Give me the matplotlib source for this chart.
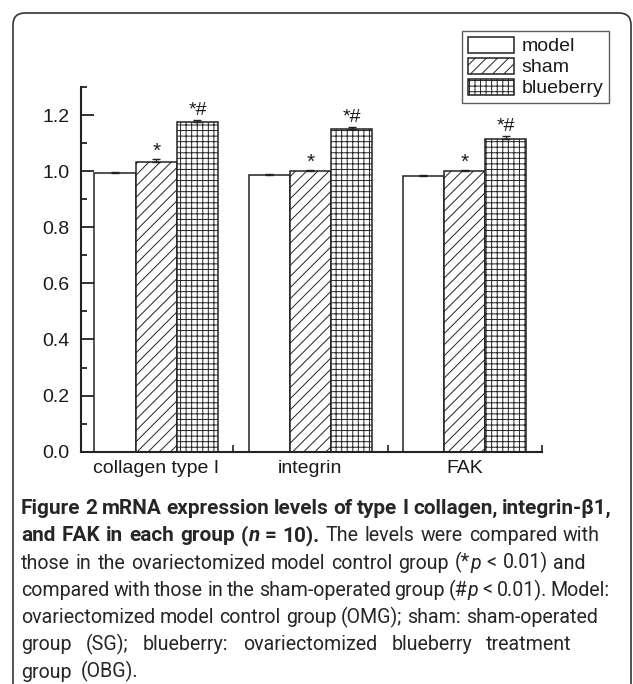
import matplotlib
matplotlib.use('Agg')
import matplotlib.pyplot as plt
from matplotlib.patches import FancyBboxPatch
from matplotlib.transforms import IdentityTransform
from matplotlib.ticker import FixedLocator, FormatStrFormatter, MultipleLocator
import numpy as np

# ---------------- data ----------------
categories = ['collagen type I', 'integrin', 'FAK']
groups = ['model', 'sham', 'blueberry']
model = [0.993, 0.985, 0.983]
sham = [1.032, 1.000, 1.000]
blueberry = [1.176, 1.151, 1.113]
err_model = [0.003, 0.006, 0.003]
err_sham = [0.010, 0.003, 0.005]
err_blueberry = [0.007, 0.006, 0.012]
marks_sham = ['*', '*', '*']
marks_blueberry = ['*#', '*#', '*#']
y_ticks = [0.0, 0.2, 0.4, 0.6, 0.8, 1.0, 1.2]

caption_lines = [
    [("Figure 2 mRNA expression levels of type I collagen, integrin-\u03b21,", 'b')],
    [("and FAK in each group (", 'b'), ("n", 'bi'), (" = 10).", 'b'),
     (" The levels were compared with", 'r')],
    [("those in the ovariectomized model control group (*", 'r'), ("p", 'i'),
     (" < 0.01) and", 'r')],
    [("compared with those in the sham-operated group (#", 'r'), ("p", 'i'),
     (" < 0.01). Model:", 'r')],
    [("ovariectomized model control group (OMG); sham: sham-operated", 'r')],
    [("group (SG); blueberry: ovariectomized blueberry treatment", 'r')],
    [("group (OBG).", 'r')],
]
caption_right = [612, 600, 586, 610, 598, 572, None]

# ---------------- style ----------------
plt.rcParams['font.family'] = ['Liberation Sans', 'DejaVu Sans']
plt.rcParams['hatch.linewidth'] = 0.7
EC = '#222222'
TC = '#1a1a1a'

W, H = 633, 684
fig = plt.figure(figsize=(W / 100, H / 100), dpi=100)
ax = fig.add_axes([80.7 / W, 1 - 451.7 / H, 461 / W, (451.7 - 87) / H])

x = np.arange(len(categories))
bw = 0.267
series = [(model, err_model, ''), (sham, err_sham, '///'), (blueberry, err_blueberry, '+++')]
for i, ((vals, errs, hatch), lab) in enumerate(zip(series, groups)):
    pos = x + (i - 1) * bw
    ax.bar(pos, vals, bw, color='white', edgecolor=EC, hatch=hatch,
           linewidth=1.1, label=lab, zorder=2)
    ax.errorbar(pos, vals, yerr=[np.zeros(len(vals)), errs], fmt='none',
                ecolor=EC, elinewidth=1, capsize=3, capthick=1, zorder=3)

for xi, v, e, m in zip(x, sham, err_sham, marks_sham):
    ax.annotate(m, (xi, v + e), xytext=(0, 1.5), textcoords='offset points',
                ha='center', va='baseline', fontsize=15, color=TC)
for xi, v, e, m in zip(x + bw, blueberry, err_blueberry, marks_blueberry):
    ax.annotate(m, (xi, v + e), xytext=(0, 3.5), textcoords='offset points',
                ha='center', va='baseline', fontsize=14, color=TC)

ax.set_xlim(-0.49, 2.5)
ax.set_ylim(0, 1.3)
for s in ['top', 'right']:
    ax.spines[s].set_visible(False)
for s in ['left', 'bottom']:
    ax.spines[s].set_linewidth(1.5)
    ax.spines[s].set_color(EC)

ax.set_xticks(x)
ax.set_xticklabels(categories)
ax.xaxis.set_minor_locator(FixedLocator([0.5, 1.5, 2.5]))
ax.tick_params(axis='x', which='major', direction='in', length=4, width=1.2,
               pad=6.0, labelsize=14, colors=EC, labelcolor=TC)
ax.tick_params(axis='x', which='minor', direction='in', length=5, width=1.2, colors=EC)

ax.set_yticks(y_ticks)
ax.yaxis.set_major_formatter(FormatStrFormatter('%.1f'))
ax.yaxis.set_minor_locator(MultipleLocator(0.1))
ax.tick_params(axis='y', which='major', direction='in', length=9, width=1.3,
               pad=8.0, labelsize=14, colors=EC, labelcolor=TC)
ax.tick_params(axis='y', which='minor', direction='in', length=4.5, width=1.3, colors=EC)

leg = ax.legend(loc='upper right', bbox_to_anchor=(609 / W, 1 - 31 / H),
                bbox_transform=fig.transFigure, fontsize=14, frameon=True,
                fancybox=False, handlelength=2.37, handleheight=0.88,
                labelspacing=0.12, handletextpad=0.4, borderpad=0.3,
                borderaxespad=0)
leg.get_frame().set_edgecolor('#333333')
leg.get_frame().set_linewidth(1.0)
for t in leg.get_texts():
    t.set_color(TC)

# ---------------- border ----------------
border = FancyBboxPatch((13, -40), 631 - 13, (H - 13) + 40,
                        boxstyle='round,pad=0,rounding_size=12',
                        transform=IdentityTransform(), fill=False,
                        ec='#333333', lw=1.2)
fig.add_artist(border)

# ---------------- caption ----------------
CAP_FONT = ['Roboto', 'DejaVu Sans']
styles = {'r': dict(weight='normal', style='normal'),
          'b': dict(weight='bold', style='normal'),
          'i': dict(weight='normal', style='italic'),
          'bi': dict(weight='bold', style='italic')}
x0 = 21
base0 = 514
pitch = 27.3

renderer = fig.canvas.get_renderer()
line_tokens = []
for segs in caption_lines:
    toks = []
    pending = False
    for text, st in segs:
        parts = text.split(' ')
        for k, p in enumerate(parts):
            if k > 0:
                pending = True
            if p:
                t = fig.text(0, 0, p, family=CAP_FONT, fontsize=12, color='#262626',
                             va='baseline', ha='left', **styles[st])
                toks.append([t, pending and len(toks) > 0, st])
                pending = False
    line_tokens.append(toks)

probe1 = fig.text(0, 0, 'a a', family=CAP_FONT, fontsize=12)
probe2 = fig.text(0, 0, 'aa', family=CAP_FONT, fontsize=12)

def space_width():
    return probe1.get_window_extent(renderer).width - probe2.get_window_extent(renderer).width

def line_width(toks, sp):
    wsum = sum(t.get_window_extent(renderer).width for t, g, s in toks)
    ng = sum(1 for t, g, s in toks if g)
    return wsum + ng * sp

sp = space_width()
ratios = [(caption_right[li] - x0) / line_width(line_tokens[li], sp) for li in (2, 3, 4)]
fs = 12 * float(np.mean(ratios))
for toks in line_tokens:
    for t, g, s in toks:
        t.set_fontsize(fs)
probe1.set_fontsize(fs)
probe2.set_fontsize(fs)
sp = space_width()
rb = (caption_right[0] - x0) / line_width(line_tokens[0], sp)
fsb = fs * min(1.06, rb)
for toks in line_tokens:
    for t, g, s in toks:
        if s in ('b', 'bi'):
            t.set_fontsize(fsb)
probe1.remove()
probe2.remove()

for li, toks in enumerate(line_tokens):
    widths = [t.get_window_extent(renderer).width for t, g, s in toks]
    ng = sum(1 for t, g, s in toks if g)
    gap = sp
    if caption_right[li] is not None and ng > 0:
        gap = max(sp * 0.7, (caption_right[li] - x0 - sum(widths)) / ng)
    if li == 6:
        gap = sp * 1.8
    cx = x0
    yb = base0 + li * pitch
    for (t, g, s), w in zip(toks, widths):
        if g:
            cx += gap
        t.set_position((cx / W, 1 - yb / H))
        cx += w

fig.savefig('out.png', dpi=100)
